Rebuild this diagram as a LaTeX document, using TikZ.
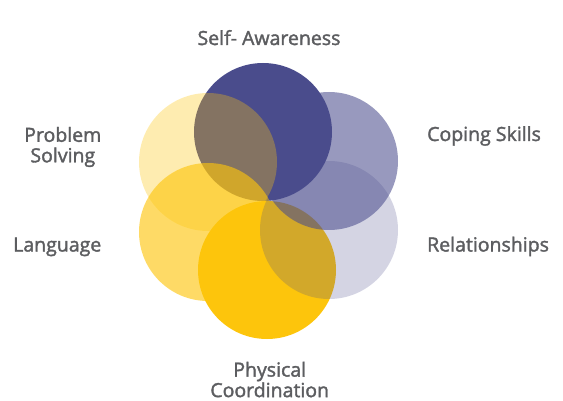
\documentclass[tikz,border=0pt]{standalone}
\usepackage{fontspec}
\newfontfamily\labfont{Open Sans}[FakeBold=1.8]
\usepackage{tikz}
\definecolor{navy}{RGB}{74,76,140}
\definecolor{gold}{RGB}{253,197,12}
\definecolor{labgray}{RGB}{92,93,96}
\tikzset{petal/.style={circle, inner sep=0pt, minimum size=138pt}}
\tikzset{lab/.style={font=\labfont\fontsize{19.5}{20.5}\selectfont, text=labgray, inner sep=0pt}}

\begin{document}
\begin{tikzpicture}[x=1pt,y=-1pt]
    \useasboundingbox (0,0) rectangle (563,401);
    \foreach \x/\y/\lab/\col/\op in {
      267/270/phys/gold/1,
      329/161/cope/navy/.57,
      263/132/self/navy/1,
      208/232/lang/gold/.63,
      208/162/prob/gold/.325,
      329/230/rel/navy/.24%
    } {
      \node[petal, fill=\col, fill opacity=\op] (\lab) at (\x, \y) {};
    }
    \node[lab, anchor=base] (selftxt) at (269, 45) {Self- Awareness};
    \node[lab, anchor=base west] (copetxt) at (427, 141) {Coping Skills};
    \node[lab, anchor=base west] (reltxt) at (427, 251.5) {Relationships};
    \node[lab, anchor=base east] (langtxt) at (101.5, 251.5) {Language};
    \node[lab, align=center, anchor=north] (probtxt) at (62.8, 126.8) {Problem\\Solving};
    \node[lab, align=center, anchor=north] (phystxt) at (269.7, 361.6) {Physical\\Coordination};
  \end{tikzpicture}
\end{document}
